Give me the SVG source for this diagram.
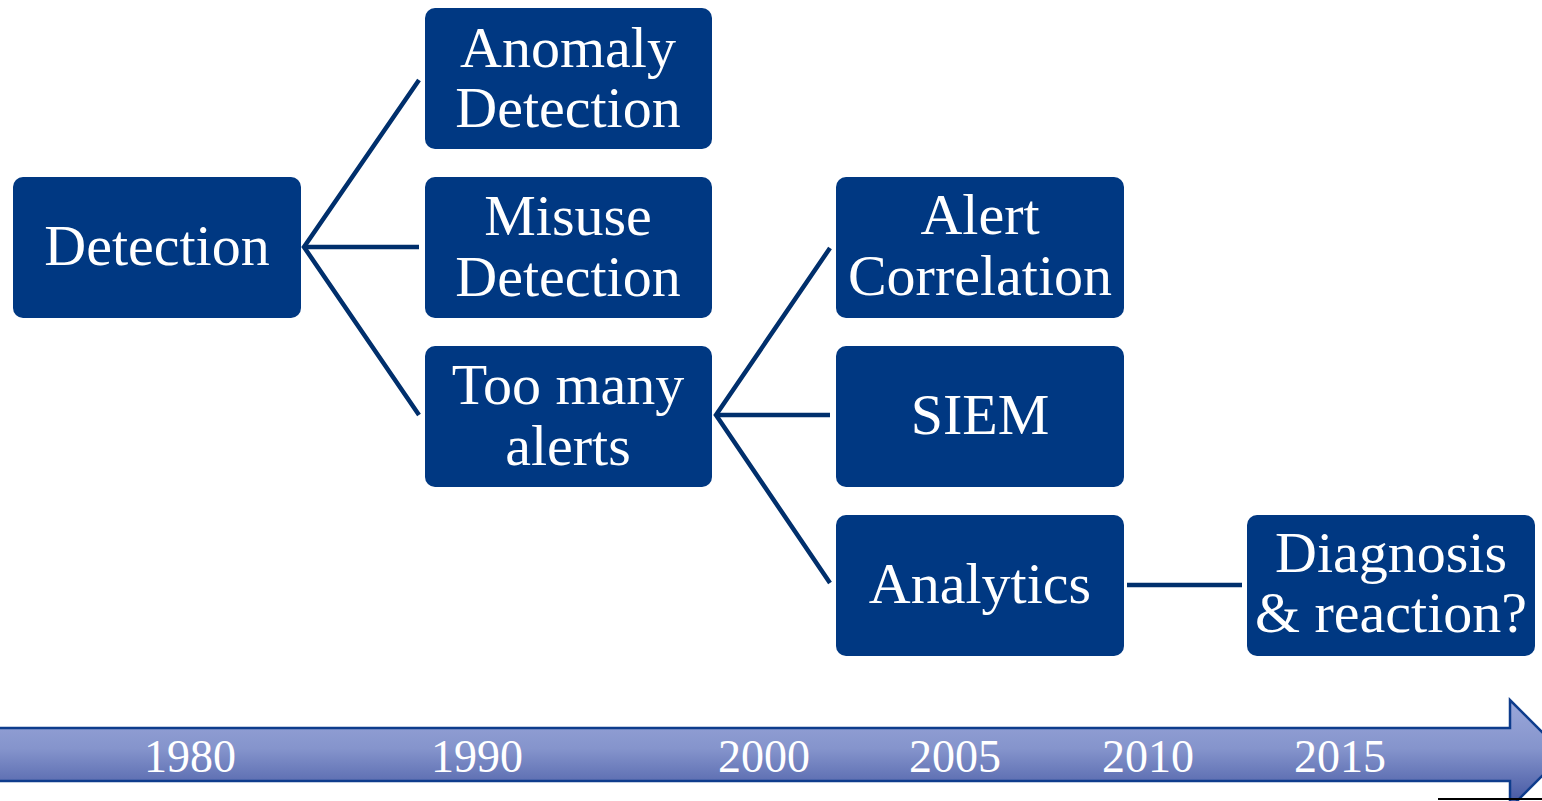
<svg xmlns="http://www.w3.org/2000/svg" width="1542" height="801" viewBox="0 0 1542 801">
  <defs>
    <linearGradient id="barFill" x1="0" y1="0" x2="0" y2="1">
      <stop offset="0" stop-color="#9ba8da"/>
      <stop offset="0.45" stop-color="#8594cc"/>
      <stop offset="1" stop-color="#3f529e"/>
    </linearGradient>
    <style>
      .box { fill: #003882; }
      .label { fill: #ffffff; font-family: "Liberation Serif", "Times New Roman", serif; font-size: 58px; text-anchor: middle; }
      .year { fill: #ffffff; font-family: "Liberation Serif", "Times New Roman", serif; font-size: 46px; text-anchor: middle; }
      .link { stroke: #002f6c; stroke-width: 4.5; fill: none; }
    </style>
  </defs>
  <rect width="1542" height="801" fill="#ffffff"/>

  <!-- timeline arrow -->
  <g id="timeline">
    <path d="M-4,728 H1510 V700 L1564,754 L1510,808 V781 H-4 Z" fill="url(#barFill)" stroke="#0e3c8c" stroke-width="2.5"/>
    <text class="year" x="190" y="772">1980</text>
    <text class="year" x="477" y="772">1990</text>
    <text class="year" x="764" y="772">2000</text>
    <text class="year" x="955" y="772">2005</text>
    <text class="year" x="1148" y="772">2010</text>
    <text class="year" x="1340" y="772">2015</text>
    <line x1="1438" y1="799" x2="1542" y2="799" stroke="#000000" stroke-width="2"/>
  </g>

  <!-- connectors -->
  <g id="connectors">
    <polyline class="link" points="419,80 304,247 419,415"/>
    <line class="link" x1="304" y1="247" x2="419" y2="247"/>
    <polyline class="link" points="830,248 716,415 830,583"/>
    <line class="link" x1="716" y1="415" x2="830" y2="415"/>
    <line class="link" x1="1127" y1="585" x2="1242" y2="585"/>
  </g>

  <g id="detection">
    <rect class="box" x="13" y="177" width="288" height="141" rx="10"/>
    <text class="label" x="157" y="265">Detection</text>
  </g>
  <g id="anomaly-detection">
    <rect class="box" x="425" y="8" width="287" height="141" rx="10"/>
    <text class="label" x="568" y="67">Anomaly</text>
    <text class="label" x="568" y="127">Detection</text>
  </g>
  <g id="misuse-detection">
    <rect class="box" x="425" y="177" width="287" height="141" rx="10"/>
    <text class="label" x="568" y="235">Misuse</text>
    <text class="label" x="568" y="296">Detection</text>
  </g>
  <g id="too-many-alerts">
    <rect class="box" x="425" y="346" width="287" height="141" rx="10"/>
    <text class="label" x="568" y="404">Too many</text>
    <text class="label" x="568" y="465">alerts</text>
  </g>
  <g id="alert-correlation">
    <rect class="box" x="836" y="177" width="288" height="141" rx="10"/>
    <text class="label" x="980" y="234">Alert</text>
    <text class="label" x="980" y="295">Correlation</text>
  </g>
  <g id="siem">
    <rect class="box" x="836" y="346" width="288" height="141" rx="10"/>
    <text class="label" x="980" y="434">SIEM</text>
  </g>
  <g id="analytics">
    <rect class="box" x="836" y="515" width="288" height="141" rx="10"/>
    <text class="label" x="980" y="603">Analytics</text>
  </g>
  <g id="diagnosis-reaction">
    <rect class="box" x="1247" y="515" width="288" height="141" rx="10"/>
    <text class="label" x="1391" y="572">Diagnosis</text>
    <text class="label" x="1391" y="632">&amp; reaction?</text>
  </g>
</svg>
